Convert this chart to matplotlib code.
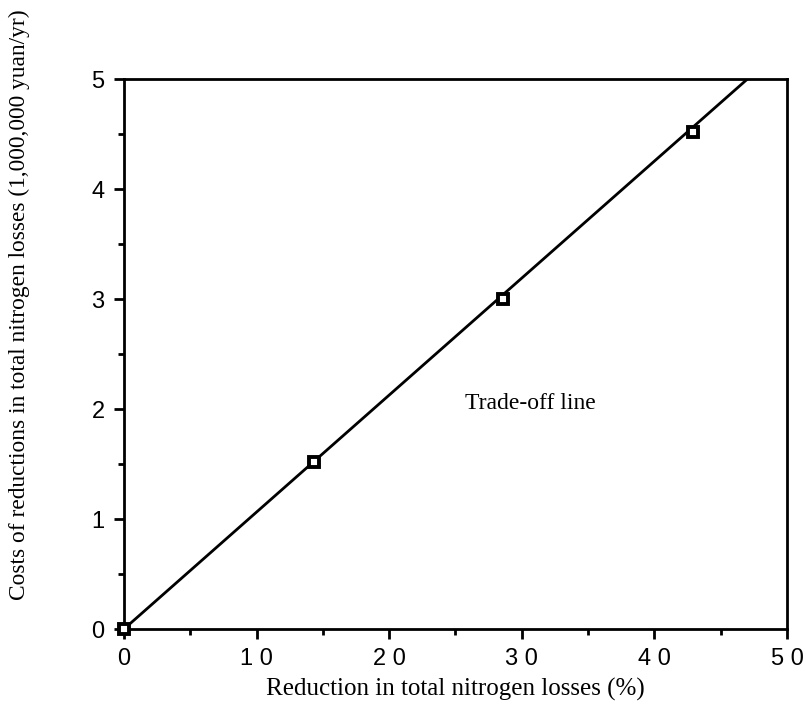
import matplotlib.pyplot as plt
from matplotlib.ticker import MultipleLocator

# reductions (%) and costs (million yuan/yr) at the scenario points
reduction = [0.0, 14.3, 28.6, 42.9]
cost = [0.0, 1.52, 3.0, 4.52]

# trade-off line ends
line_x = [0.0, 47.0]
line_y = [0.0, 5.0]

xticks = [0, 10, 20, 30, 40, 50]
yticks = [0, 1, 2, 3, 4, 5]

fig = plt.figure(figsize=(8.06, 7.14), dpi=100)
ax = fig.add_axes([0.1538, 0.119, 0.8226, 0.770])

ax.plot(line_x, line_y, color="black", lw=2, solid_capstyle="butt", zorder=2)
ax.plot(reduction, cost, linestyle="none", marker="s", markersize=7,
        markerfacecolor="white", markeredgecolor="black", markeredgewidth=2.8,
        clip_on=False, zorder=3)

ax.set_xlim(0, 50)
ax.set_ylim(0, 5)
ax.set_xticks(xticks)
ax.set_yticks(yticks)
ax.set_xticklabels([" ".join(str(t)) for t in xticks])
ax.xaxis.set_minor_locator(MultipleLocator(5))
ax.yaxis.set_minor_locator(MultipleLocator(0.5))

for s in ax.spines.values():
    s.set_linewidth(2)
ax.tick_params(which="major", direction="out", length=7, width=2,
               labelsize=17, pad=7)
ax.tick_params(which="minor", direction="out", length=4, width=2)
for lab in ax.get_xticklabels() + ax.get_yticklabels():
    lab.set_family("Liberation Sans")

serif = "Liberation Serif"
ax.set_xlabel("Reduction in total nitrogen losses (%)", family=serif,
              fontsize=18, labelpad=5)
ax.set_ylabel("Costs of reductions in total nitrogen losses (1,000,000 yuan/yr)",
              family=serif, fontsize=16.8)
ax.yaxis.set_label_coords(-0.141, 0.59)
ax.text(25.7, 2.05, "Trade-off line", family=serif, fontsize=17,
        ha="left", va="center")

fig.savefig("out.png", dpi=100)
